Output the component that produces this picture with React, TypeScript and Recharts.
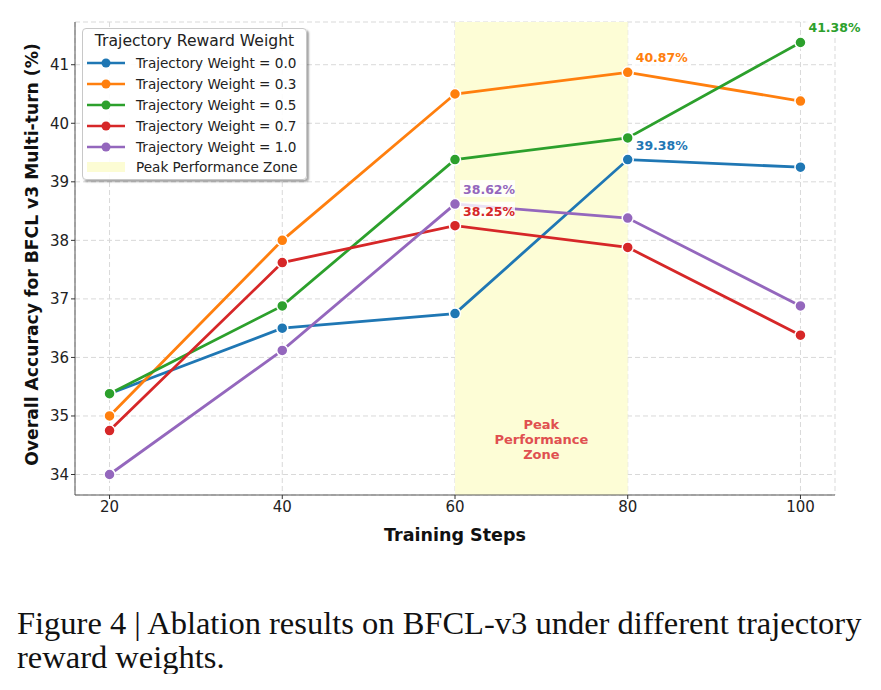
import React from 'react';
import {
  ComposedChart, Line, XAxis, YAxis, CartesianGrid, ReferenceArea, Legend, LabelList,
} from 'recharts';

const steps = [20, 40, 60, 80, 100];
const w00 = [35.38, 36.5, 36.75, 39.38, 39.25];
const w03 = [35.0, 38.0, 40.5, 40.87, 40.38];
const w05 = [35.38, 36.88, 39.38, 39.75, 41.38];
const w07 = [34.75, 37.62, 38.25, 37.88, 36.38];
const w10 = [34.0, 36.12, 38.62, 38.38, 36.88];
const yTicks = [34, 35, 36, 37, 38, 39, 40, 41];

const seriesDefs = [
  { key: 'w00', name: 'Trajectory Weight = 0.0', color: '#1f77b4', values: w00, peakStep: 80 },
  { key: 'w03', name: 'Trajectory Weight = 0.3', color: '#ff7f0e', values: w03, peakStep: 80 },
  { key: 'w05', name: 'Trajectory Weight = 0.5', color: '#2ca02c', values: w05, peakStep: 100 },
  { key: 'w07', name: 'Trajectory Weight = 0.7', color: '#d62728', values: w07, peakStep: 60 },
  { key: 'w10', name: 'Trajectory Weight = 1.0', color: '#9467bd', values: w10, peakStep: 60 },
];

const data = steps.map((s, i) => {
  const row: any = { step: s };
  seriesDefs.forEach((d) => { row[d.key] = d.values[i]; });
  return row;
});

const FONT = 'DejaVu Sans, sans-serif';

const makePeakLabel = (color: string, peakStep: number) => (props: any) => {
  const { x, y, value, index } = props;
  if (steps[index] !== peakStep) return null;
  const txt = `${Number(value).toFixed(2)}%`;
  return (
    <g>
      <rect x={x + 5} y={y - 24} width={55} height={17} fill="#ffffff" opacity={0.8} />
      <text x={x + 8} y={y - 10} fill={color} fontFamily={FONT} fontSize={12.5} fontWeight="bold">{txt}</text>
    </g>
  );
};

const LegendBox = () => (
  <div style={{
    width: 225, height: 152, boxSizing: 'border-box', background: 'rgba(255,255,255,0.9)',
    border: '1px solid #c8c8c8', borderRadius: 4, boxShadow: '2px 2px 2px rgba(0,0,0,0.35)',
    fontFamily: FONT, color: '#222', padding: '2px 4px 0 4px',
  }}>
    <div style={{ fontSize: 15.6, textAlign: 'center', lineHeight: '21px', marginBottom: 1 }}>Trajectory Reward Weight</div>
    {seriesDefs.map((d) => (
      <div key={d.key} style={{ display: 'flex', alignItems: 'center', height: 20.8, fontSize: 13.6 }}>
        <svg width={39} height={12} style={{ marginRight: 10 }}>
          <line x1={0} y1={6} x2={38} y2={6} stroke={d.color} strokeWidth={2.5} />
          <circle cx={19} cy={6} r={4.5} fill={d.color} />
        </svg>
        <span>{d.name}</span>
      </div>
    ))}
    <div style={{ display: 'flex', alignItems: 'center', height: 20.8, fontSize: 13.6 }}>
      <div style={{ width: 38, height: 10, background: '#fcfcd4', marginRight: 11 }} />
      <span>Peak Performance Zone</span>
    </div>
  </div>
);

const ZoneLabel = (props: any) => {
  const { viewBox } = props;
  if (!viewBox) return null;
  const cx = viewBox.x + viewBox.width / 2;
  const base = viewBox.y + viewBox.height;
  const lines = ['Peak', 'Performance', 'Zone'];
  return (
    <text x={cx} y={base - 66} textAnchor="middle" fill="#e05050" fontFamily={FONT} fontSize={13} fontWeight="bold">
      {lines.map((l, i) => (
        <tspan key={l} x={cx} dy={i === 0 ? 0 : 15}>{l}</tspan>
      ))}
    </text>
  );
};

export default function App() {
  return (
    <div style={{ width: 865 }}>
      <ComposedChart width={865} height={560} data={data} margin={{ top: 14, right: 38, left: 20, bottom: 13 }}>
        <ReferenceArea x1={60} x2={80} y1={33.65} y2={41.73} fill="#fdfdd6" fillOpacity={1} stroke="none" label={<ZoneLabel />} ifOverflow="hidden" />
        <CartesianGrid stroke="#d9d9d9" strokeDasharray="5 3" />
        <XAxis
          dataKey="step" type="number" domain={[16, 104]} ticks={steps} allowDataOverflow
          tick={{ fontSize: 15, fill: '#222', fontFamily: FONT }} tickSize={4}
          stroke="#555" tickLine={{ stroke: '#333' }} height={60}
          label={{ value: 'Training Steps', position: 'insideBottom', offset: 14, fontSize: 17.5, fontWeight: 'bold', fill: '#111', fontFamily: FONT }}
        />
        <XAxis xAxisId="top" orientation="top" type="number" domain={[16, 104]} tick={false} tickLine={false} height={0} stroke="#555" />
        <YAxis
          type="number" domain={[33.65, 41.73]} ticks={yTicks} allowDataOverflow width={47}
          tick={{ fontSize: 15, fill: '#222', fontFamily: FONT }} tickSize={4}
          stroke="#555" tickLine={{ stroke: '#333' }}
          label={{ value: 'Overall Accuracy for BFCL v3 Multi-turn (%)', angle: -90, position: 'center', dx: -20, dy: -4, fontSize: 17.2, fontWeight: 'bold', fill: '#111', fontFamily: FONT }}
        />
        <YAxis yAxisId="right" orientation="right" type="number" domain={[33.65, 41.73]} tick={false} tickLine={false} width={0} stroke="#555" />
        {seriesDefs.map((d) => (
          <Line
            key={d.key} dataKey={d.key} name={d.name} stroke={d.color} strokeWidth={2.8}
            dot={{ r: 5.5, fill: d.color, stroke: '#ffffff', strokeWidth: 1.5 }}
            activeDot={false} isAnimationActive={false}
          >
            <LabelList dataKey={d.key} content={makePeakLabel(d.color, d.peakStep)} />
          </Line>
        ))}
        <Legend layout="horizontal" verticalAlign="middle" align="center" content={<LegendBox />}
          wrapperStyle={{ left: 74, top: 20, width: 225, height: 152 }} />
      </ComposedChart>
      <div style={{ fontFamily: '"Liberation Serif", serif', fontSize: 32.5, lineHeight: '34px', color: '#111', marginTop: 38, marginLeft: 9, width: 900 }}>
        Figure 4 | Ablation results on BFCL-v3 under different trajectory<br />reward weights.
      </div>
    </div>
  );
}
